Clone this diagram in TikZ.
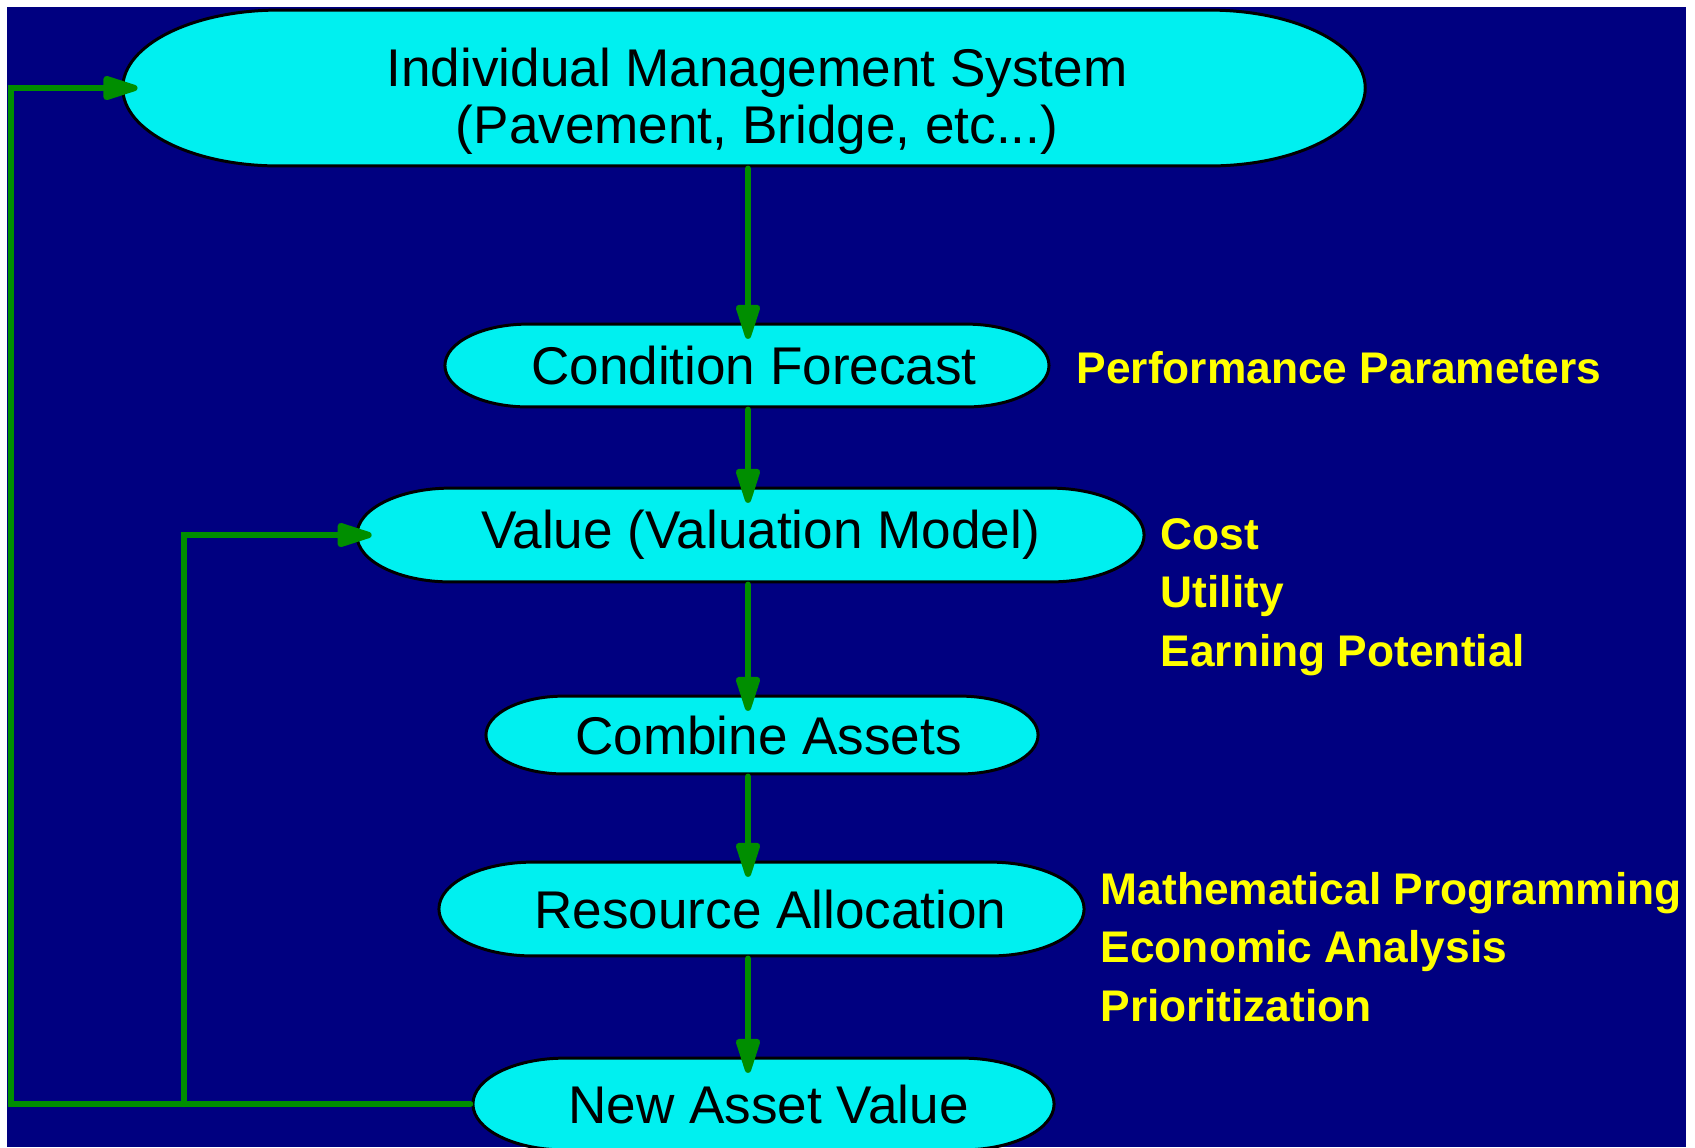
\documentclass[tikz,border=0pt]{standalone}
\usepackage{fontspec}
\setmainfont{Liberation Sans}
\usepackage{xcolor}
\usepackage{tikz}
\usetikzlibrary{arrows.meta,calc}
\definecolor{bg_navy}{HTML}{000080}
\definecolor{box_cyan}{HTML}{00F0F0}
\definecolor{flow_green}{HTML}{008E00}
\definecolor{note_yellow}{HTML}{FFFF00}

\begin{document}
\begin{tikzpicture}[
            x=0.01cm,
            y=-0.01cm,
            line cap=round,
            line join=round,
            nudge/.store in=\tnudge,
            nudge=0,
            termbox/.style={rectangle, inner sep=0pt, align=center,
                font=\fontsize{15.1}{16.1}\selectfont,
                path picture={
                    \path[draw=black, fill=box_cyan, line width=0.85pt]
                        let \p1=(path picture bounding box.south west),
                            \p2=(path picture bounding box.north east),
                            \n1={(\y2-\y1)/2-0.6},
                            \n2={\x2-2*\tnudge}
                        in ({\x1+2*\n1+0.6pt},{\y2-0.6pt}) -- ({\n2-2*\n1-0.6},{\y2-0.6pt})
                           arc[start angle=90, end angle=-90, x radius={2*\n1*1pt}, y radius={\n1*1pt}]
                           -- ({\x1+2*\n1+0.6pt},{\y1+0.6pt})
                           arc[start angle=270, end angle=90, x radius={2*\n1*1pt}, y radius={\n1*1pt}]
                           -- cycle;
                }},
            note/.style={inner sep=0pt, align=left, anchor=west, text=note_yellow,
                font=\bfseries\fontsize{12.6}{16.6}\selectfont},
            flow/.style={draw=flow_green, line width=1.8pt,
                -{Triangle[length=12pt,width=7pt,round]}, shorten >=-5pt}
        ]
            % Page and background
            \useasboundingbox (0,0) rectangle (1695,1147);
            \fill[bg_navy] (7,7) rectangle (1686,1147);

            % Process steps (nudge = text sits a little right of the shape centre)
            \node[termbox, nudge=3.7, text height=35.3pt, text depth=4pt,
                minimum width=12.72cm, minimum height=1.6cm] (ims) at (757,88)
                {Individual Management System\\(Pavement, Bridge, etc...)};
            \node[termbox, nudge=2, minimum width=6.22cm, minimum height=0.87cm] (cond) at (754,365.5) {Condition Forecast};
            \node[termbox, nudge=2.85, minimum width=8.11cm, minimum height=0.98cm] (valmod) at (760.5,535) {Value (Valuation Model)};
            \node[termbox, nudge=1.85, minimum width=5.69cm, minimum height=0.82cm] (comb) at (768.5,735) {Combine Assets};
            \node[termbox, nudge=2.56, minimum width=6.67cm, minimum height=0.98cm] (alloc) at (770.5,909) {Resource Allocation};
            \node[termbox, nudge=1.42, minimum width=5.95cm, minimum height=0.96cm] (newval) at (768.5,1104) {New Asset Value};

            % Side notes
            \node[note] (perfnote) at (1076,368) {Performance Parameters};
            \node[note] (valnote) at (1160,597) {Cost\\Utility\\Earning Potential};
            \node[note] (allocnote) at (1100,947) {Mathematical Programming\\Economic Analysis\\Prioritization};

            % Main flow down the middle
            \coordinate (spine) at (748,0);
            \draw[flow] (ims.south -| spine) -- (cond.north -| spine);
            \draw[flow] (cond.south -| spine) -- (valmod.north -| spine);
            \draw[flow] (valmod.south -| spine) -- (comb.north -| spine);
            \draw[flow] (comb.south -| spine) -- (alloc.north -| spine);
            \draw[flow] (alloc.south -| spine) -- (newval.north -| spine);

            % Feedback loops
            \coordinate (loopL) at (11,0);
            \coordinate (loopM) at (184,0);
            \draw[flow, line join=miter] (newval.west) -- (newval.west -| loopL) |- (ims.west);
            \draw[flow, line join=miter] (newval.west -| loopM) |- (valmod.west);
        \end{tikzpicture}
\end{document}
